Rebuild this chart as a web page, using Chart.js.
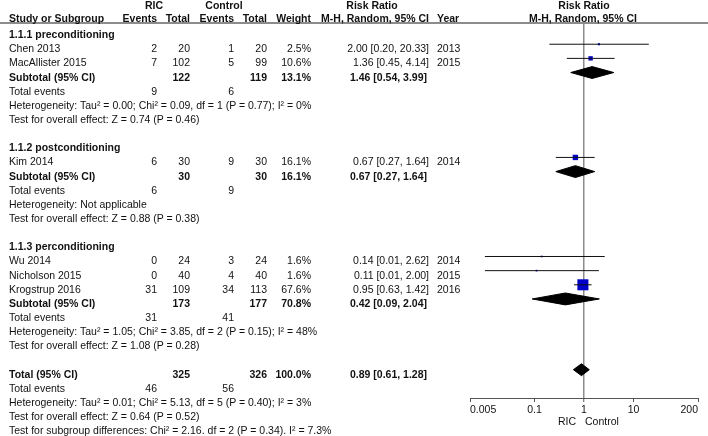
<!DOCTYPE HTML>
<html>
<head>
<meta charset="utf-8">
<script src="https://cdn.jsdelivr.net/npm/chart.js@4.4.0/dist/chart.umd.min.js"></script>
<style>
  body { margin: 0; background: #fff; }
  #wrap { position: relative; width: 708px; height: 436px; overflow: hidden;
          font-family: "Liberation Sans", Arial, sans-serif; font-size: 10.5px; color: #111; }
  #forest { position: absolute; left: 0; top: 0; }
  .t { position: absolute; white-space: nowrap; line-height: 14px; }
  .b { font-weight: bold; }
  #hline { position: absolute; left: 0; top: 22px; width: 708px; height: 2px; background: #8c8c8c; }
</style>
</head>
<body>
<div id="wrap">
  <canvas id="forest" width="708" height="436"></canvas>
  <div id="hline"></div>
</div>

<script>
// studies
var studies   = ['Chen 2013', 'MacAllister 2015', 'Kim 2014', 'Wu 2014', 'Nicholson 2015', 'Krogstrup 2016'];
var studyGrp  = [0, 0, 1, 2, 2, 2];
var ricEvents = [2, 7, 6, 0, 0, 31];
var ricTotal  = [20, 102, 30, 24, 40, 109];
var ctlEvents = [1, 5, 9, 3, 4, 34];
var ctlTotal  = [20, 99, 30, 24, 40, 113];
var weights   = [2.5, 10.6, 16.1, 1.6, 1.6, 67.6];
var rr        = [2.00, 1.36, 0.67, 0.14, 0.11, 0.95];
var rrLow     = [0.20, 0.45, 0.27, 0.01, 0.01, 0.63];
var rrHigh    = [20.33, 4.14, 1.64, 2.62, 2.00, 1.42];
var years     = [2013, 2015, 2014, 2014, 2015, 2016];

// subgroups
var groups       = ['1.1.1 preconditioning', '1.1.2 postconditioning', '1.1.3 perconditioning'];
var subRicTotal  = [122, 30, 173];
var subCtlTotal  = [119, 30, 177];
var subRicEvents = [9, 6, 31];
var subCtlEvents = [6, 9, 41];
var subWeight    = [13.1, 16.1, 70.8];
var subRR        = [1.46, 0.67, 0.42];
var subLow       = [0.54, 0.27, 0.09];
var subHigh      = [3.99, 1.64, 2.04];
var subHetero    = ['Tau² = 0.00; Chi² = 0.09, df = 1 (P = 0.77); I² = 0%',
                    'Not applicable',
                    'Tau² = 1.05; Chi² = 3.85, df = 2 (P = 0.15); I² = 48%'];
var subTest      = ['Z = 0.74 (P = 0.46)', 'Z = 0.88 (P = 0.38)', 'Z = 1.08 (P = 0.28)'];

// overall
var totRic = 325, totCtl = 326, totWeight = 100.0;
var totRR = 0.89, totLow = 0.61, totHigh = 1.28;
var totRicEvents = 46, totCtlEvents = 56;
var totHetero = 'Tau² = 0.01; Chi² = 5.13, df = 5 (P = 0.40); I² = 3%';
var totTest = 'Z = 0.64 (P = 0.52)';
var subgroupDiff = 'Chi² = 2.16. df = 2 (P = 0.34). I² = 7.3%';

var xTicks = [0.005, 0.1, 1, 10, 200];

// ---- layout of rows (row index -> y) ----
var ROW0 = 44.2, ROWH = 14.15;
function rowY(i) { return ROW0 + i * ROWH + 4; }

var wrap = document.getElementById('wrap');
function put(txt, x, y, align, bold) {
  var d = document.createElement('div');
  d.className = 't' + (bold ? ' b' : '');
  d.textContent = txt;
  d.style.top = (y - 7) + 'px';
  if (align === 'right') d.style.right = (708 - x) + 'px';
  else if (align === 'center') { d.style.left = x + 'px'; d.style.transform = 'translateX(-50%)'; }
  else d.style.left = x + 'px';
  wrap.appendChild(d);
}
function fmtCI(a, l, h) { return a.toFixed(2) + ' [' + l.toFixed(2) + ', ' + h.toFixed(2) + ']'; }

// column anchors
var cLabel = 9, cRicEv = 157, cRicTot = 190, cCtlEv = 234, cCtlTot = 267, cWt = 311, cRR = 429, cYear = 437;

// header
put('RIC', 154, 5, 'center', true);
put('Control', 224, 5, 'center', true);
put('Risk Ratio', 372, 5, 'center', true);
put('Risk Ratio', 584, 5, 'center', true);
put('Study or Subgroup', cLabel, 18, 'left', true);
put('Events', cRicEv, 18, 'right', true);
put('Total', cRicTot, 18, 'right', true);
put('Events', cCtlEv, 18, 'right', true);
put('Total', cCtlTot, 18, 'right', true);
put('Weight', cWt, 18, 'right', true);
put('M-H, Random, 95% CI', cRR, 18, 'right', true);
put('Year', cYear, 18, 'left', true);
put('M-H, Random, 95% CI', 583, 18, 'center', true);

var studyRows = [], subRows = [];
var row = -1;
for (var g = 0; g < groups.length; g++) {
  put(groups[g], cLabel, rowY(row), 'left', true); row++;
  for (var s = 0; s < studies.length; s++) {
    if (studyGrp[s] !== g) continue;
    var y = rowY(row);
    put(studies[s], cLabel, y, 'left');
    put(String(ricEvents[s]), cRicEv, y, 'right');
    put(String(ricTotal[s]), cRicTot, y, 'right');
    put(String(ctlEvents[s]), cCtlEv, y, 'right');
    put(String(ctlTotal[s]), cCtlTot, y, 'right');
    put(weights[s].toFixed(1) + '%', cWt, y, 'right');
    put(fmtCI(rr[s], rrLow[s], rrHigh[s]), cRR, y, 'right');
    put(String(years[s]), cYear, y, 'left');
    studyRows[s] = row; row++;
  }
  var ys = rowY(row);
  put('Subtotal (95% CI)', cLabel, ys, 'left', true);
  put(String(subRicTotal[g]), cRicTot, ys, 'right', true);
  put(String(subCtlTotal[g]), cCtlTot, ys, 'right', true);
  put(subWeight[g].toFixed(1) + '%', cWt, ys, 'right', true);
  put(fmtCI(subRR[g], subLow[g], subHigh[g]), cRR - 2, ys, 'right', true);
  subRows[g] = row; row++;
  put('Total events', cLabel, rowY(row), 'left');
  put(String(subRicEvents[g]), cRicEv, rowY(row), 'right');
  put(String(subCtlEvents[g]), cCtlEv, rowY(row), 'right'); row++;
  put('Heterogeneity: ' + subHetero[g], cLabel, rowY(row), 'left'); row++;
  put('Test for overall effect: ' + subTest[g], cLabel, rowY(row), 'left'); row++;
  row++;
}
var totRow = row;
put('Total (95% CI)', cLabel, rowY(row), 'left', true);
put(String(totRic), cRicTot, rowY(row), 'right', true);
put(String(totCtl), cCtlTot, rowY(row), 'right', true);
put(totWeight.toFixed(1) + '%', cWt, rowY(row), 'right', true);
put(fmtCI(totRR, totLow, totHigh), cRR - 2, rowY(row), 'right', true); row++;
put('Total events', cLabel, rowY(row), 'left');
put(String(totRicEvents), cRicEv, rowY(row), 'right');
put(String(totCtlEvents), cCtlEv, rowY(row), 'right'); row++;
put('Heterogeneity: ' + totHetero, cLabel, rowY(row), 'left'); row++;
put('Test for overall effect: ' + totTest, cLabel, rowY(row), 'left'); row++;
put('Test for subgroup differences: ' + subgroupDiff, cLabel, rowY(row), 'left');

// axis caption under the plot
put('RIC', 576, 421, 'right');
put('Control', 585, 421, 'left');

// ---- datasets ----
var datasets = [];
for (var i = 0; i < studies.length; i++) {
  datasets.push({
    data: [{x: rrLow[i], y: studyRows[i]}, {x: rrHigh[i], y: studyRows[i]}],
    showLine: true, borderColor: '#111', borderWidth: 1, pointRadius: 0
  });
}
datasets.push({
  data: rr.map(function (v, i) { return {x: v, y: studyRows[i]}; }),
  pointStyle: 'rect',
  pointRadius: weights.map(function (w) { return 0.95 * Math.sqrt(w); }),
  backgroundColor: '#0000c8', borderWidth: 0
});
function diamond(est, lo, hi, r) {
  var h = 0.42;
  return {
    data: [{x: lo, y: r}, {x: est, y: r - h}, {x: hi, y: r}, {x: est, y: r + h}, {x: lo, y: r}],
    showLine: true, fill: 'shape', backgroundColor: '#000', borderColor: '#000',
    borderWidth: 1, pointRadius: 0
  };
}
for (var k = 0; k < groups.length; k++) datasets.push(diamond(subRR[k], subLow[k], subHigh[k], subRows[k]));
datasets.push(diamond(totRR, totLow, totHigh, totRow));

new Chart(document.getElementById('forest'), {
  type: 'scatter',
  data: { datasets: datasets },
  options: {
    responsive: false,
    animation: false,
    layout: { padding: { left: 470, right: 10, top: 23, bottom: 17.4 } },
    plugins: { legend: { display: false }, tooltip: { enabled: false } },
    scales: {
      x: {
        type: 'logarithmic', min: 0.005, max: 200,
        afterBuildTicks: function (scale) { scale.ticks = xTicks.map(function (v) { return {value: v}; }); },
        ticks: {
          align: 'inner', padding: 2, color: '#111', maxRotation: 0, autoSkip: false,
          font: { family: 'Liberation Sans', size: 10.5 },
          callback: function (v) { return String(v); }
        },
        grid: {
          color: function (c) { return c.tick && c.tick.value === 1 ? '#8c8c8c' : 'rgba(0,0,0,0)'; },
          lineWidth: function (c) { return c.tick && c.tick.value === 1 ? 1.5 : 1; },
          tickColor: '#555', tickWidth: 1, tickLength: 4
        },
        border: { display: true, color: '#555', width: 1 }
      },
      y: { type: 'linear', reverse: true, min: -1.5, max: 25, display: false }
    }
  }
});
</script>
</body>
</html>
